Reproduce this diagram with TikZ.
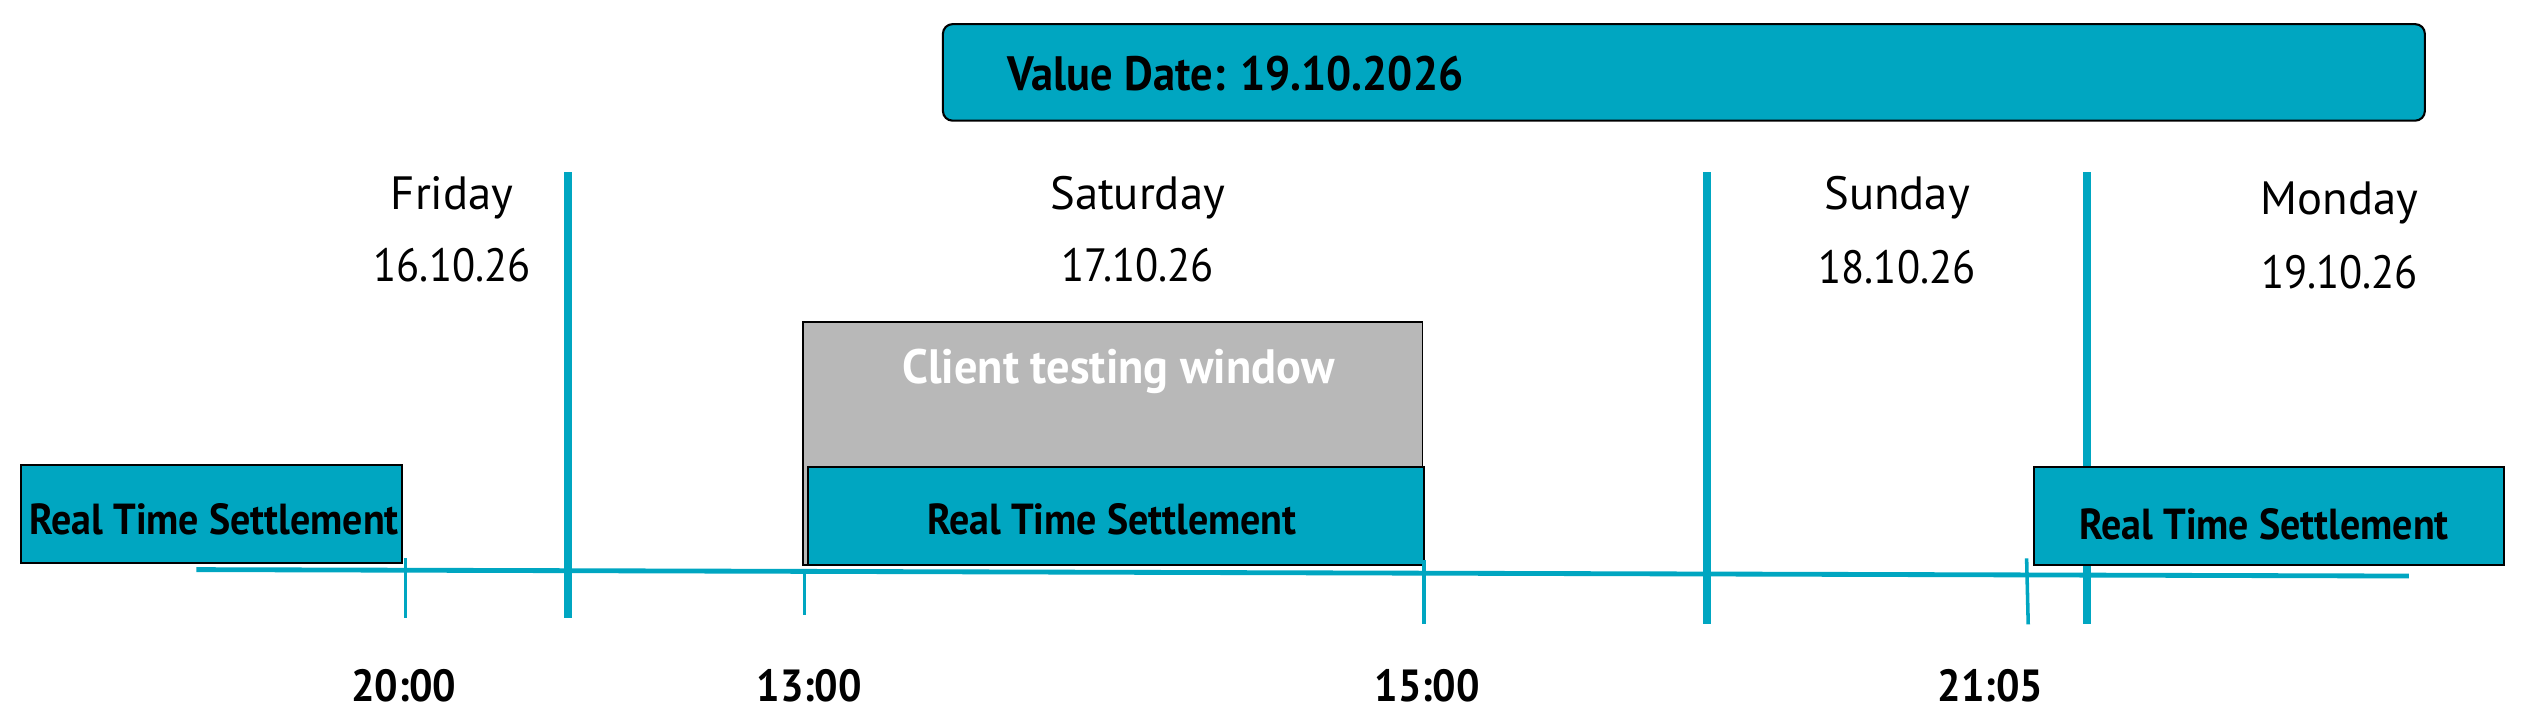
\documentclass[tikz,border=0pt]{standalone}
\usepackage{fontspec}
\setmainfont{PT Sans}
\usepackage{graphicx}
\definecolor{tealc}{HTML}{00A6C1}
\definecolor{grayc}{HTML}{B8B8B8}
\newcommand\cnd[2]{\scalebox{#1}[1]{#2}}
\begin{document}
\begin{tikzpicture}[x=1pt,y=-1pt,
  dayline/.style={draw=tealc, line width=5pt},
  tline/.style={draw=tealc, line width=3pt},
  tickline/.style={draw=tealc, line width=2.2pt},
  tealbox/.style={draw=black, line width=1.3pt, fill=tealc, inner sep=0pt},
  graybox/.style={draw=black, line width=1.1pt, fill=grayc, inner sep=0pt},
  daytxt/.style={inner sep=0pt, font=\fontsize{29}{32}\selectfont},
  boldtxt/.style={inner sep=0pt, font=\bfseries\fontsize{27}{30}\selectfont},
  timetxt/.style={inner sep=0pt, font=\bfseries\fontsize{28}{31}\selectfont}]
\useasboundingbox (0,0) rectangle (1568,446);
% value date box
\node[tealbox, rounded corners=6pt, minimum width=921pt, minimum height=60pt] (vd) at (1046.5,45) {};
\node[boldtxt, anchor=west, font=\bfseries\fontsize{30}{33}\selectfont] (vdt) at (626,46) {\cnd{0.92}{Value Date: 19.10.2026}};
% day separators
\coordinate (d1t) at (353,107); \coordinate (d1b) at (353,384);
\coordinate (d2t) at (1061,107); \coordinate (d2b) at (1061,388);
\coordinate (d3t) at (1297,107); \coordinate (d3b) at (1297,388);
\draw[dayline] (d1t) -- (d1b);
\draw[dayline] (d2t) -- (d2b);
\draw[dayline] (d3t) -- (d3b);
% day labels
\node[daytxt] (fri) at (281,123) {Friday};
\node[daytxt] (frid) at (281,165) {\cnd{0.91}{16.10.26}};
\node[daytxt] (sat) at (707,123) {Saturday};
\node[daytxt] (satd) at (707,165) {\cnd{0.91}{17.10.26}};
\node[daytxt] (sun) at (1179,123) {Sunday};
\node[daytxt] (sund) at (1179,166) {\cnd{0.91}{18.10.26}};
\node[daytxt] (mon) at (1454,126) {Monday};
\node[daytxt] (mond) at (1454,169) {\cnd{0.91}{19.10.26}};
% client testing window
\node[graybox, minimum width=385pt, minimum height=151pt] (ctw) at (691.5,275.5) {};
\node[boldtxt, text=white, font=\bfseries\fontsize{30}{33}\selectfont] (ctwt) at (695,231) {\cnd{0.96}{Client testing window}};
% timeline
\coordinate (tlS) at (122,354); \coordinate (tlE) at (1497,358);
\draw[tline] (tlS) -- (tlE);
% RTS boxes
\node[tealbox, minimum width=237pt, minimum height=61pt] (rtsL) at (131.5,319.5) {};
\node[boldtxt] (rtsLt) at (133,323) {\cnd{0.92}{Real Time Settlement}};
\node[tealbox, minimum width=383pt, minimum height=61pt] (rtsM) at (693.5,320.5) {};
\node[boldtxt] (rtsMt) at (691,323) {\cnd{0.92}{Real Time Settlement}};
\node[tealbox, minimum width=292pt, minimum height=61pt] (rtsR) at (1410,320.5) {};
\node[boldtxt] (rtsRt) at (1407,326) {\cnd{0.92}{Real Time Settlement}};
% ticks
\coordinate (t1t) at (252,347); \coordinate (t1b) at (252,384);
\coordinate (t2t) at (500,355); \coordinate (t2b) at (500,382);
\coordinate (t3t) at (885,348); \coordinate (t3b) at (885,388);
\coordinate (t4t) at (1259.5,347); \coordinate (t4b) at (1260.5,388);
\draw[tickline] (t1t) -- (t1b);
\draw[tickline] (t2t) -- (t2b);
\draw[tickline] (t3t) -- (t3b);
\draw[tickline] (t4t) -- (t4b);
% times
\node[timetxt] (h1) at (251,426) {\cnd{0.92}{20:00}};
\node[timetxt] (h2) at (503,426) {\cnd{0.92}{13:00}};
\node[timetxt] (h3) at (887,426) {\cnd{0.92}{15:00}};
\node[timetxt] (h4) at (1237,426) {\cnd{0.92}{21:05}};
\end{tikzpicture}
\end{document}
